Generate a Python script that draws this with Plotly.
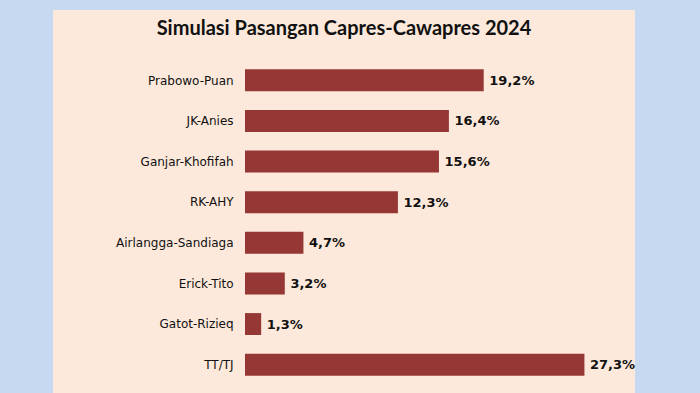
import plotly.graph_objects as go

categories = ["Prabowo-Puan", "JK-Anies", "Ganjar-Khofifah", "RK-AHY",
              "Airlangga-Sandiaga", "Erick-Tito", "Gatot-Rizieq", "TT/TJ"]
values = [19.2, 16.4, 15.6, 12.3, 4.7, 3.2, 1.3, 27.3]
labels = ["\u2009" + f"{v:.1f}".replace(".", ",") + "%" for v in values]
title_text = "Simulasi Pasangan Capres-Cawapres 2024"

fig = go.Figure(go.Bar(
    x=values, y=categories, orientation="h",
    marker=dict(color="#953735", line=dict(width=0)),
    text=labels, textposition="outside", cliponaxis=False,
    textfont=dict(family="DejaVu Sans", size=13, color="#111111", weight="bold"),
    hoverinfo="skip",
))

W, H = 700, 393
l, r, t, b = 245, 82, 60, 8
pw, ph = W - l - r, H - t - b

def px2paper_x(px):
    return (px - l) / pw

def px2paper_y(py):
    return (H - b - py) / ph

fig.add_shape(type="rect", xref="paper", yref="paper",
              x0=px2paper_x(53), x1=px2paper_x(635),
              y0=px2paper_y(400), y1=px2paper_y(10),
              fillcolor="#FDE9DB", line=dict(width=0), layer="below")

fig.update_layout(
    width=W, height=H,
    margin=dict(l=l, r=r, t=t, b=b),
    paper_bgcolor="#C6D9F1",
    plot_bgcolor="rgba(0,0,0,0)",
    bargap=0.46,
    showlegend=False,
    title=dict(text=title_text, x=344 / W, xanchor="center",
               y=1 - 28 / H, yanchor="middle", xref="container", yref="container",
               font=dict(family="Lato", size=20, color="#111111", weight="bold")),
    xaxis=dict(range=[0, 30], visible=False),
    yaxis=dict(autorange="reversed", showgrid=False, zeroline=False, showline=False,
               ticks="outside", ticklen=8, tickcolor="rgba(0,0,0,0)",
               tickfont=dict(family="DejaVu Sans", size=12, color="#111111")),
)

fig.write_html("out.html", config={"displayModeBar": False},
               post_script="document.body.style.margin='0';document.body.style.background='#C6D9F1';")
